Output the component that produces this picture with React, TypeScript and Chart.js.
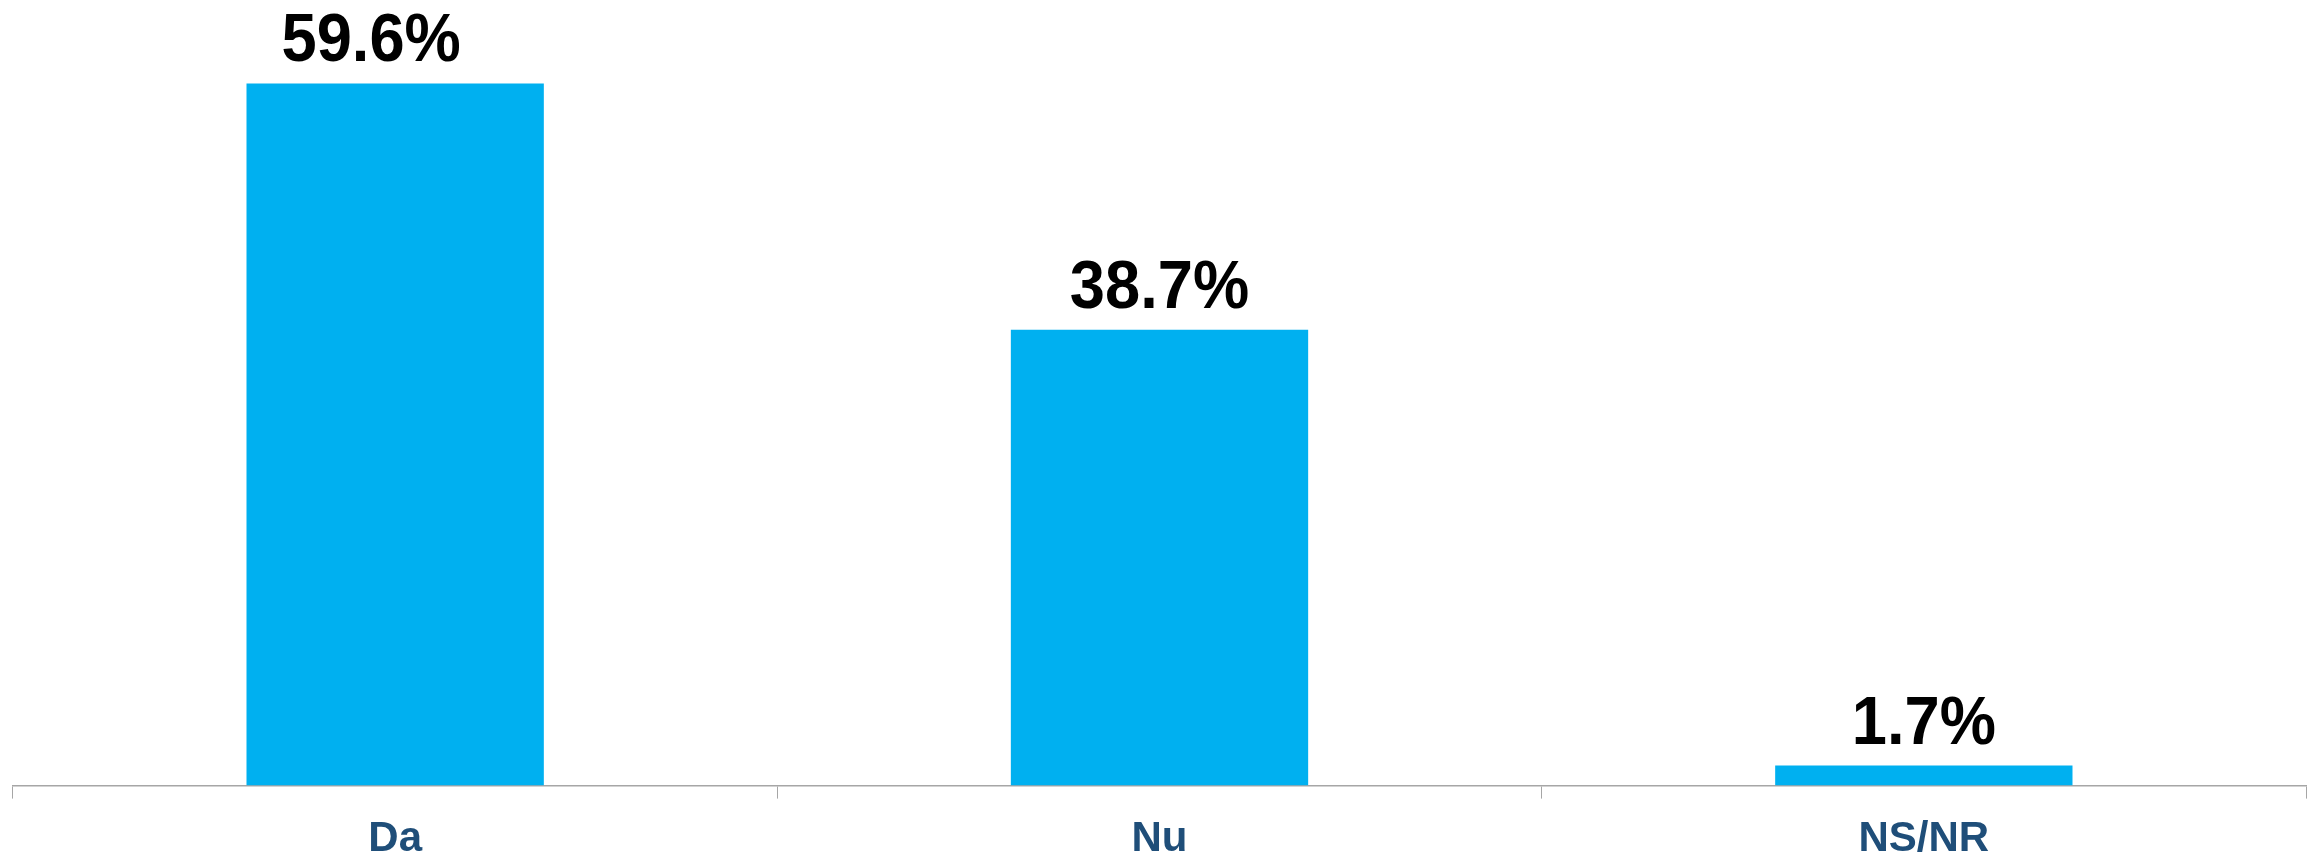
import React, { useEffect, useRef } from "react";
import { Chart, registerables } from "chart.js";

Chart.register(...registerables);

const categories = ["Da", "Nu", "NS/NR"];
const values = [59.6, 38.7, 1.7];
const valueLabels = ["59.6%", "38.7%", "1.7%"];

const FONT = "'Liberation Sans', Arial, sans-serif";

const valueLabelPlugin = {
  id: "valueLabels",
  afterDatasetsDraw(chart: any) {
    const ctx = chart.ctx;
    const meta = chart.getDatasetMeta(0);
    ctx.save();
    ctx.font = `bold 68px ${FONT}`;
    ctx.fillStyle = "#000000";
    ctx.textAlign = "center";
    ctx.textBaseline = "alphabetic";
    meta.data.forEach((bar: any, i: number) => {
      // the first label sits slightly left of its bar in the reference
      const dx = i === 0 ? -24 : 0;
      ctx.save();
      ctx.translate(bar.x + dx, bar.y - 22);
      ctx.scale(0.93, 1);
      ctx.fillText(valueLabels[i], 0, 0);
      ctx.restore();
    });
    ctx.restore();
  },
};

export default function App() {
  const ref = useRef<HTMLCanvasElement>(null);
  useEffect(() => {
    if (!ref.current) return;
    const chart = new Chart(ref.current, {
      type: "bar",
      data: {
        labels: categories,
        datasets: [
          {
            data: values,
            backgroundColor: "#00B0F0",
            borderWidth: 0,
            categoryPercentage: 1,
            barPercentage: 0.389,
          },
        ],
      },
      options: {
        responsive: false,
        animation: false,
        layout: { padding: { left: 5, right: 4, top: 0, bottom: 0 } },
        plugins: { legend: { display: false }, tooltip: { enabled: false } },
        scales: {
          x: {
            grid: {
              display: true,
              drawOnChartArea: false,
              drawTicks: true,
              tickLength: 13,
              color: "#A6A6A6",
              offset: true,
            },
            border: { display: true, color: "#A6A6A6", width: 1.5 },
            ticks: {
              color: "#1F4E79",
              font: { family: FONT, size: 42, weight: "bold" },
              padding: 16,
            },
          },
          y: {
            display: false,
            min: 0,
            max: 66,
          },
        },
      },
      plugins: [valueLabelPlugin],
    });
    return () => chart.destroy();
  }, []);
  return (
    <div style={{ width: 2302, height: 847, overflow: "hidden" }}>
      <canvas ref={ref} width={2302} height={873} style={{ display: "block" }} />
    </div>
  );
}
